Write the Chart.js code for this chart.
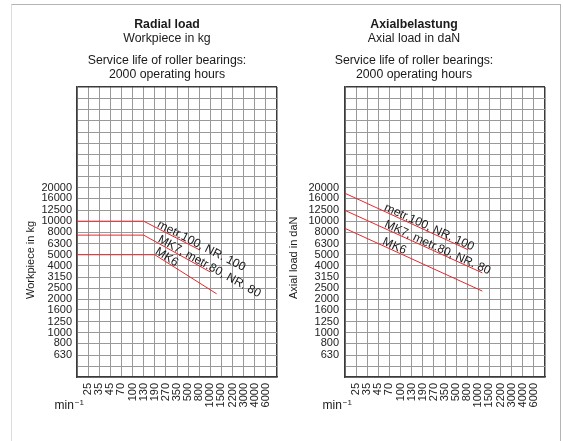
<!DOCTYPE html>
<html>
<head>
<meta charset="utf-8">
<script src="https://cdn.jsdelivr.net/npm/chart.js@4.4.0/dist/chart.umd.min.js"></script>
<style>
  html, body { margin: 0; padding: 0; background: #fff; }
  #wrap { position: relative; width: 563px; height: 441px; overflow: hidden; }
  #frame { position: absolute; left: 11px; top: 4px; width: 548px; height: 440px;
           border: 1px solid #b4b4b4; border-bottom: none; border-left-color: #dcdcdc; }
  canvas { position: absolute; top: 0; }
  #radial { left: 0; }
  #axial { left: 280px; }
</style>
</head>
<body>
<div id="wrap">
  <div id="frame"></div>
  <canvas id="radial" width="290" height="441"></canvas>
  <canvas id="axial" width="283" height="441"></canvas>
</div>
<script>
// speed steps (min-1), evenly spaced; tick position 1 = 25 ... 17 = 6000
var speeds = ['25', '35', '45', '70', '100', '130', '190', '270', '350', '500', '800', '1000', '1500', '2200', '3000', '4000', '6000'];

// load grid (R10 steps) and the ones that get a label
var loadGrid = [400, 500, 630, 800, 1000, 1250, 1600, 2000, 2500, 3150, 4000, 5000, 6300, 8000, 10000,
                12500, 16000, 20000, 25000, 31500, 40000, 50000, 63000, 80000, 100000, 125000, 160000];
var loadLabels = [630, 800, 1000, 1250, 1600, 2000, 2500, 3150, 4000, 5000, 6300, 8000, 10000, 12500, 16000, 20000];

var seriesNames = ['metr.100, NR. 100', 'MK7, metr.80, NR. 80', 'MK6'];

// radial load (kg); x = position on the speed scale
var radialX = [[0, 6, 11], [0, 6, 12], [0, 7, 12.57]];
var radialKg = [[10000, 10000, 5550], [7500, 7500, 3500], [5000, 5000, 2230]];

// axial load (daN)
var axialX = [[0, 11.1], [0, 12.36], [0, 12.36]];
var axialDaN = [[17800, 5530], [12500, 3440], [8620, 2360]];

var FONT = "'Liberation Sans', Arial, sans-serif";
var RED = '#e8262a';
var GRID = '#999999';
var DARK = '#3a3a3a';

var annotate = {
    id: 'annotate',
    afterDatasetsDraw: function (chart, args, o) {
        var ctx = chart.ctx, a = chart.chartArea;
        ctx.save();
        ctx.fillStyle = '#1a1a1a';

        // heading
        ctx.textAlign = 'center';
        ctx.textBaseline = 'alphabetic';
        var base = [28, 41.5, 64, 77.5];
        o.heading.forEach(function (line, i) {
            ctx.font = (i === 0 ? 'bold ' : '') + '12.3px ' + FONT;
            ctx.fillText(line, o.cx, base[i]);
        });

        // curve names along the sloped part
        ctx.font = '12px ' + FONT;
        ctx.textAlign = 'left';
        chart.data.datasets.forEach(function (ds, i) {
            var pts = chart.getDatasetMeta(i).data;
            var p0 = pts[pts.length - 2], p1 = pts[pts.length - 1];
            var ang = Math.atan2(p1.y - p0.y, p1.x - p0.x);
            ctx.save();
            ctx.translate(p0.x, p0.y);
            ctx.rotate(ang);
            ctx.fillText(ds.label, o.along[i], -1);
            ctx.restore();
        });

        // y title
        ctx.save();
        ctx.translate(a.left - o.yTitleDx, a.bottom - 78);
        ctx.rotate(-Math.PI / 2);
        ctx.font = '11px ' + FONT;
        ctx.textBaseline = 'middle';
        ctx.fillText(o.yTitle, 0, 0);
        ctx.restore();

        // min-1
        ctx.textBaseline = 'alphabetic';
        ctx.font = '12px ' + FONT;
        var x0 = a.left - 22.5;
        ctx.fillText('min', x0, a.bottom + 32);
        var w = ctx.measureText('min').width;
        ctx.font = '8px ' + FONT;
        ctx.fillText('\u22121', x0 + w + 1, a.bottom + 28);
        ctx.restore();
    }
};

function lineColor(last) {
    return function (c) { return c.index === last ? DARK : GRID; };
}
function lineWidth(last) {
    return function (c) { return c.index === last ? 1.5 : 1; };
}

function makeChart(id, xs, ys, opts) {
    var datasets = seriesNames.map(function (name, i) {
        return {
            label: name,
            data: xs[i].map(function (x, j) { return { x: x, y: ys[i][j] }; }),
            borderColor: RED,
            borderWidth: 1,
            pointRadius: 0,
            fill: false,
            tension: 0
        };
    });
    return new Chart(document.getElementById(id), {
        type: 'line',
        data: { datasets: datasets },
        options: {
            responsive: false,
            animation: false,
            events: [],
            layout: { padding: { top: 87, right: opts.padRight, left: 0, bottom: 0 } },
            plugins: {
                legend: { display: false },
                tooltip: { enabled: false },
                annotate: opts.ann
            },
            scales: {
                x: {
                    type: 'linear',
                    min: 0,
                    max: speeds.length + 1,
                    afterBuildTicks: function (s) {
                        s.ticks = [];
                        for (var i = 0; i <= speeds.length + 1; i++) s.ticks.push({ value: i });
                    },
                    afterFit: function (s) { s.height = 64; s.paddingLeft = 0; s.paddingRight = 0; },
                    ticks: {
                        autoSkip: false, maxRotation: 90, minRotation: 90, padding: 6,
                        color: '#222', font: { family: FONT, size: 11 },
                        callback: function (v) { return speeds[v - 1] || ''; }
                    },
                    grid: { color: lineColor(speeds.length + 1), lineWidth: lineWidth(speeds.length + 1), drawTicks: false },
                    border: { color: DARK, width: 1.5 }
                },
                y: {
                    type: 'logarithmic',
                    min: loadGrid[0],
                    max: loadGrid[loadGrid.length - 1],
                    afterBuildTicks: function (s) {
                        s.ticks = loadGrid.map(function (v) { return { value: v }; });
                    },
                    afterFit: function (s) { s.width = opts.yWidth; s.paddingTop = 0; s.paddingBottom = 0; },
                    ticks: {
                        autoSkip: false, padding: opts.yPad,
                        color: '#222', font: { family: FONT, size: 11 },
                        callback: function (v) { return loadLabels.indexOf(v) >= 0 ? String(v) : ''; }
                    },
                    grid: { color: lineColor(loadGrid.length - 1), lineWidth: lineWidth(loadGrid.length - 1), drawTicks: false },
                    border: { color: DARK, width: 1.5 }
                }
            }
        },
        plugins: [annotate]
    });
}

makeChart('radial', radialX, radialKg, {
    yWidth: 77, padRight: 13, yPad: 5,
    ann: {
        cx: 167,
        heading: ['Radial load', 'Workpiece in kg', 'Service life of roller bearings:', '2000 operating hours'],
        yTitle: 'Workpiece in kg', yTitleDx: 46,
        along: [14, 15, -1]
    }
});

makeChart('axial', axialX, axialDaN, {
    yWidth: 65, padRight: 18, yPad: 6,
    ann: {
        cx: 134,
        heading: ['Axialbelastung', 'Axial load in daN', 'Service life of roller bearings:', '2000 operating hours'],
        yTitle: 'Axial load in daN', yTitleDx: 51,
        along: [42, 42, 40]
    }
});
</script>
</body>
</html>
